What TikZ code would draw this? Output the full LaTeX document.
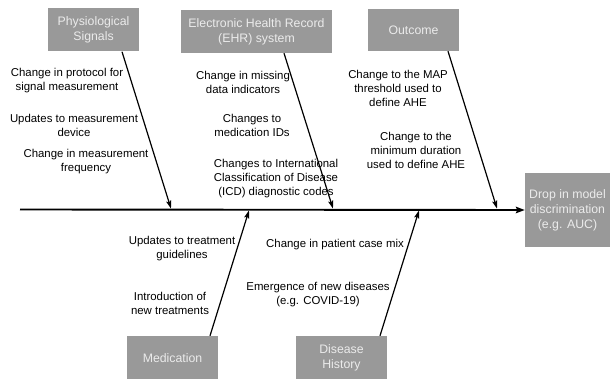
\documentclass[tikz,border=0pt]{standalone}
\usepackage{fontspec}
\setmainfont{Liberation Sans}
\usetikzlibrary{arrows.meta}
\definecolor{boxgray}{HTML}{999999}
\definecolor{boxtext}{HTML}{EBEBEB}
\begin{document}
\begin{tikzpicture}[x=1pt,y=-1pt,
  cat/.style={fill=boxgray,draw=none,inner sep=0pt,text=boxtext,align=center,
    font=\fontsize{12.3}{15}\selectfont},
  cause/.style={align=center,inner sep=0pt,font=\fontsize{11.4}{14}\selectfont},
  bone/.style={line width=1.2pt,-{Stealth[length=8pt,width=5pt,inset=1.5pt]}},
  spine/.style={line width=1.9pt,-{Stealth[length=9pt,width=6.5pt,inset=1.5pt]}}]
\useasboundingbox (0,0) rectangle (613,379);
% category boxes
\node[cat,minimum width=91pt,minimum height=43pt] (phys) at (93.5,30) {Physiological\\Signals};
\node[cat,minimum width=151pt,minimum height=43pt] (ehr) at (256.5,31.5) {Electronic Health Record\\(EHR) system};
\node[cat,minimum width=91pt,minimum height=42pt] (outc) at (413.5,30) {Outcome};
\node[cat,minimum width=85pt,minimum height=74pt] (drop) at (567.5,210) {Drop in model\\discrimination\\(e.g. AUC)};
\node[cat,minimum width=91pt,minimum height=44pt] (med) at (172.5,358) {Medication};
\node[cat,minimum width=91pt,minimum height=44pt] (dis) at (341.5,358) {Disease\\History};
% spine
\coordinate (tail) at (20,209.5);
\coordinate (s1) at (171,208.6);
\coordinate (s2) at (333,208.6);
\coordinate (s3) at (497,208.6);
\coordinate (s4) at (249,210.4);
\coordinate (s5) at (419,210.4);
\draw[spine] (tail) -- (drop.west);
% bones
\draw[bone] ([xshift=28.5pt]phys.south) -- (s1);
\draw[bone] ([xshift=27.5pt]ehr.south) -- (s2);
\draw[bone] ([xshift=34.5pt]outc.south) -- (s3);
\draw[bone] ([xshift=37.5pt]med.north) -- (s4);
\draw[bone] ([xshift=38.5pt]dis.north) -- (s5);
% causes
\node[cause] (c1) at (67,81) {Change in protocol for\\signal measurement};
\node[cause] (c2) at (74,125) {Updates to measurement\\device};
\node[cause] (c3) at (86,162) {Change in measurement\\frequency};
\node[cause] (c4) at (243,82) {Change in missing\\data indicators};
\node[cause] (c5) at (252,125) {Changes to\\medication IDs};
\node[cause] (c6) at (276,179) {Changes to International\\Classification of Disease\\(ICD) diagnostic codes};
\node[cause] (c7) at (398,88) {Change to the MAP\\threshold used to\\define AHE};
\node[cause] (c8) at (416,150) {Change to the\\minimum duration\\used to define AHE};
\node[cause] (c9) at (182,249) {Updates to treatment\\guidelines};
\node[cause] (c10) at (170,303) {Introduction of\\new treatments};
\node[cause] (c11) at (335,245) {Change in patient case mix};
\node[cause] (c12) at (318,295) {Emergence of new diseases\\(e.g. COVID-19)};
\end{tikzpicture}
\end{document}
